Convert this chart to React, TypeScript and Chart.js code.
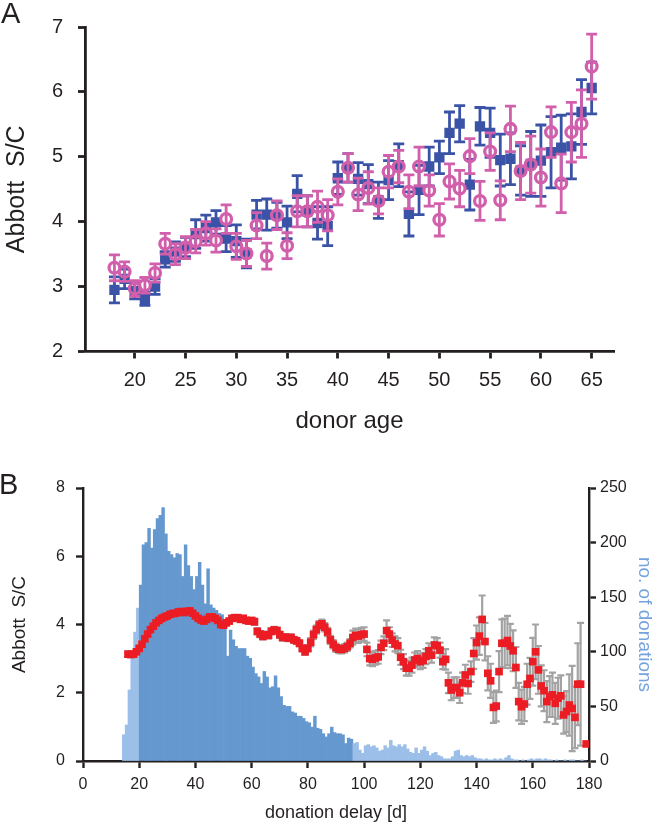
import React, { useEffect, useRef } from "react";
import { Chart, registerables } from "chart.js";
Chart.register(...registerables);

const FONT = "'Liberation Sans', Arial, Helvetica, sans-serif";
const AXIS = "#231f20";
const BLUE = "#3a53a6";
const MAGENTA = "#d25fab";
const RED = "#ec1c24";
const GRAY = "#a3a3a3";
const DARK_BAR = "#6598cf";
const LIGHT_BAR = "#9bbfe8";
const RIGHT_TITLE = "#74a3de";

// ---------- Panel A: donor age ----------
const ageTicks = [20, 25, 30, 35, 40, 45, 50, 55, 60, 65];
const ages = [18, 19, 20, 21, 22, 23, 24, 25, 26, 27, 28, 29, 30, 31, 32, 33, 34, 35, 36, 37, 38, 39, 40, 41, 42, 43, 44, 45, 46, 47, 48, 49, 50, 51, 52, 53, 54, 55, 56, 57, 58, 59, 60, 61, 62, 63, 64, 65];
const blueMean = [2.95, 3.12, 2.93, 2.81, 3.0, 3.42, 3.54, 3.61, 3.81, 3.9, 3.99, 3.74, 3.7, 3.51, 4.11, 4.11, 4.1, 3.99, 4.43, 4.16, 3.98, 3.93, 4.67, 4.83, 4.66, 4.58, 4.33, 4.64, 4.87, 4.12, 4.49, 4.85, 4.99, 5.37, 5.51, 4.57, 5.47, 5.37, 4.95, 4.97, 4.79, 4.89, 4.94, 5.07, 5.14, 5.16, 5.69, 6.06];
const blueErr = [0.2, 0.15, 0.12, 0.1, 0.12, 0.12, 0.15, 0.15, 0.22, 0.2, 0.18, 0.2, 0.25, 0.22, 0.22, 0.24, 0.2, 0.25, 0.28, 0.24, 0.25, 0.3, 0.25, 0.22, 0.25, 0.3, 0.28, 0.3, 0.33, 0.34, 0.38, 0.3, 0.25, 0.32, 0.28, 0.39, 0.29, 0.38, 0.4, 0.4, 0.38, 0.5, 0.55, 0.55, 0.5, 0.5, 0.5, 0.4];
const magentaMean = [3.29, 3.23, 2.97, 3.02, 3.21, 3.66, 3.5, 3.6, 3.7, 3.82, 3.71, 4.04, 3.62, 3.51, 3.94, 3.47, 4.1, 3.63, 4.16, 4.16, 4.23, 4.1, 4.46, 4.83, 4.42, 4.52, 4.32, 4.77, 4.85, 4.46, 4.85, 4.48, 4.03, 4.62, 4.51, 5.01, 4.32, 5.08, 4.33, 5.43, 4.78, 4.88, 4.68, 5.38, 4.59, 5.38, 5.51, 6.39];
const magentaErr = [0.2, 0.15, 0.12, 0.12, 0.14, 0.16, 0.16, 0.17, 0.18, 0.18, 0.18, 0.22, 0.2, 0.2, 0.2, 0.2, 0.22, 0.2, 0.24, 0.24, 0.24, 0.24, 0.2, 0.22, 0.25, 0.25, 0.2, 0.25, 0.25, 0.26, 0.3, 0.24, 0.25, 0.27, 0.28, 0.27, 0.3, 0.29, 0.3, 0.35, 0.44, 0.44, 0.44, 0.39, 0.45, 0.46, 0.52, 0.5];

// ---------- Panel B: donation delay ----------
const histFirstDay = 14;
const darkFrom = 20;
const darkTo = 95;
const histCounts = [
  24, 33, 65, 94, 118, 140,
  161, 198, 200, 213, 195, 212, 222, 225, 232, 208,
  192, 189, 186, 190, 189, 169, 198, 179, 169, 157,
  169, 182, 161, 144, 176, 143, 140, 138, 135, 134,
  125, 96, 120, 111, 105, 103, 103, 103, 96, 94,
  86, 80, 77, 71, 82, 77, 67, 68, 78, 67,
  59, 51, 50, 50, 45, 44, 41, 41, 39, 36,
  35, 31, 41, 30, 29, 25, 22, 25, 31, 26,
  25, 25, 24, 16, 21, 20,
  16, 17, 10, 7,
  14, 15, 13, 14, 12, 9, 10, 14, 12, 19,
  14, 13, 15, 13, 15, 11, 8, 7, 12, 7,
  10, 13, 9, 5, 7, 8, 5, 4, 2, 2,
  2, 4, 9, 10, 5, 4, 5, 4, 5, 3,
  2, 2, 1, 2, 1, 1, 2, 1, 2, 1,
  3, 5, 2, 1, 1, 0, 1, 0, 1, 2,
  1, 2, 2, 1, 2, 1, 1, 0, 1, 0,
  0, 1, 0, 1, 1, 0, 0, 1, 0,
];
const redFirstDay = 16;
const redMean: (number | null)[] = [
  3.13, 3.12, 3.13, 3.2, 3.3, 3.42, 3.58, 3.72, 3.85, 3.95,
  4.05, 4.12, 4.18, 4.22, 4.25, 4.3, 4.32, 4.33, 4.37, 4.38,
  4.35, 4.38, 4.4, 4.33, 4.25, 4.18, 4.13, 4.1, 4.15, 4.22,
  4.22, 4.18, 4.12, 4.0, 3.98, 4.05, 4.1, 4.18, 4.2, 4.2,
  4.15, 4.18, 4.12, 4.1, 4.12, 4.08, 3.8, 3.72, 3.65, 3.7,
  3.68, 3.8, 3.84, 3.82, 3.7, 3.62, 3.63, 3.6, 3.62, 3.55,
  3.52, 3.45, 3.3, 3.2, 3.3, 3.48, 3.7, 3.85, 3.98, 4.02,
  3.92, 3.78, 3.55, 3.42, 3.32, 3.28, 3.27, 3.3, 3.35, 3.45,
  3.62, 3.68, 3.66, 3.7, 3.72, 3.27, 3.0, 2.98, 3.02, 3.05,
  3.33, 3.45, 3.82, 3.72, 3.54, 3.43, 3.38, 3.04, 2.91, 2.72,
  2.72, 2.81, 2.96, 3.0, 2.91, 2.95, 3.06, 3.23, 3.1, 3.4,
  3.38, 3.25, 2.91, 2.98, 2.29, 2.08, 2.15, 2.15, 2.0, 2.29,
  2.52, 2.27, 2.62, 3.15, 3.47, 3.66, 4.15, 3.5, 2.57, 2.35,
  1.57, 1.61, 2.62, 3.45, 3.45, 3.53, 3.37, 3.23, 2.74, 1.74,
  1.59, 1.67, 2.25, 2.42, 2.91, 3.2, 2.67, 2.2, 2.06, 1.74,
  1.89, 1.94, 1.69, 1.84, 1.91, 1.35, 1.45, 1.64, 1.54, 1.28,
  2.25, 2.25, null, 0.5,
];
const redErr = [
  0.08, 0.08, 0.08, 0.08, 0.08, 0.08, 0.08, 0.08, 0.08, 0.08,
  0.08, 0.08, 0.08, 0.08, 0.08, 0.07, 0.07, 0.07, 0.07, 0.07,
  0.07, 0.07, 0.07, 0.07, 0.07, 0.07, 0.07, 0.07, 0.07, 0.07,
  0.07, 0.07, 0.07, 0.07, 0.07, 0.07, 0.07, 0.07, 0.07, 0.07,
  0.07, 0.07, 0.07, 0.07, 0.07, 0.09, 0.09, 0.09, 0.09, 0.09,
  0.09, 0.09, 0.09, 0.09, 0.09, 0.09, 0.09, 0.09, 0.09, 0.09,
  0.09, 0.09, 0.09, 0.09, 0.09, 0.12, 0.12, 0.12, 0.12, 0.12,
  0.12, 0.12, 0.12, 0.12, 0.12, 0.12, 0.12, 0.12, 0.12, 0.12,
  0.2, 0.2, 0.2, 0.2, 0.2, 0.2, 0.2, 0.2, 0.2, 0.2,
  0.2, 0.2, 0.3, 0.2, 0.2, 0.22, 0.22, 0.22, 0.22, 0.22,
  0.22, 0.22, 0.22, 0.22, 0.22, 0.22, 0.22, 0.22, 0.22, 0.22,
  0.22, 0.22, 0.22, 0.3, 0.3, 0.3, 0.3, 0.3, 0.3, 0.3,
  0.3, 0.3, 0.3, 0.45, 0.5, 0.55, 0.7, 0.55, 0.5, 0.5,
  0.45, 0.45, 0.6, 0.7, 0.72, 0.72, 0.65, 0.6, 0.6, 0.55,
  0.5, 0.5, 0.6, 0.6, 0.7, 0.8, 0.7, 0.6, 0.6, 0.6,
  0.6, 0.65, 0.6, 0.6, 0.6, 0.55, 0.6, 0.9, 1.25, 0.9,
  1.2, 1.8, 0, 0,
];

const errorBarPlugin = {
  id: "errorBars",
  beforeDatasetDraw(chart: any, args: any) {
    const ds = chart.data.datasets[args.index];
    const err: number[] | undefined = ds.errorBars;
    if (!err) return;
    const meta = args.meta;
    const yScale = chart.scales[meta.yAxisID];
    const ctx = chart.ctx;
    ctx.save();
    ctx.strokeStyle = ds.errorColor;
    ctx.lineWidth = ds.errorWidth;
    ctx.lineCap = "butt";
    meta.data.forEach((pt: any, i: number) => {
      const raw = ds.data[i];
      if (!raw || raw.y == null) return;
      const e = err[i];
      if (!e) return;
      const x = pt.x;
      const yTop = yScale.getPixelForValue(raw.y + e);
      const yBot = yScale.getPixelForValue(raw.y - e);
      const c = ds.capHalf;
      ctx.beginPath();
      ctx.moveTo(x, yTop);
      ctx.lineTo(x, yBot);
      ctx.moveTo(x - c, yTop);
      ctx.lineTo(x + c, yTop);
      ctx.moveTo(x - c, yBot);
      ctx.lineTo(x + c, yBot);
      ctx.stroke();
    });
    ctx.restore();
  },
};

const H_A = 440;
const H_B = 387;

function axisCommon(tickSize: number, pad: number, tickLen: number, borderW: number) {
  return {
    grid: {
      display: true,
      drawOnChartArea: false,
      drawTicks: true,
      tickLength: tickLen,
      tickWidth: borderW,
      tickColor: AXIS,
    },
    border: { display: true, color: AXIS, width: borderW },
    ticks: { color: AXIS, font: { family: FONT, size: tickSize }, padding: pad },
  };
}

export default function App() {
  const refA = useRef<HTMLCanvasElement>(null);
  const refB = useRef<HTMLCanvasElement>(null);

  useEffect(() => {
    const chartA = new Chart(refA.current as HTMLCanvasElement, {
      type: "scatter",
      data: {
        datasets: [
          {
            label: "magenta",
            data: ages.map((a, i) => ({ x: a, y: magentaMean[i] })),
            pointStyle: "circle",
            pointRadius: 5.4,
            pointBorderWidth: 3.3,
            borderColor: MAGENTA,
            backgroundColor: "rgba(0,0,0,0)",
            errorBars: magentaErr,
            errorColor: MAGENTA,
            errorWidth: 2.8,
            capHalf: 5.5,
          } as any,
          {
            label: "blue",
            data: ages.map((a, i) => ({ x: a, y: blueMean[i] })),
            pointStyle: "rect",
            pointRadius: 7.3,
            pointBorderWidth: 0,
            borderColor: BLUE,
            backgroundColor: BLUE,
            errorBars: blueErr,
            errorColor: BLUE,
            errorWidth: 2.8,
            capHalf: 5.5,
          } as any,
        ],
      },
      options: {
        responsive: false,
        animation: false,
        devicePixelRatio: 1,
        events: [],
        layout: { padding: { left: 0, top: 17.5, right: 40, bottom: 0 } },
        plugins: { legend: { display: false }, tooltip: { enabled: false } },
        scales: {
          x: {
            type: "linear",
            min: 15.1,
            max: 67.2,
            afterBuildTicks: (s: any) => {
              s.ticks = ageTicks.map((v) => ({ value: v }));
            },
            afterFit: (s: any) => {
              s.height = H_A - 351.5;
            },
            ...axisCommon(20, 9.5, 7, 2.8),
            title: {
              display: true,
              text: "donor age",
              color: AXIS,
              font: { family: FONT, size: 24, lineHeight: 1 },
              padding: { top: 0, bottom: 7 },
            },
          },
          y: {
            type: "linear",
            min: 2,
            max: 7,
            afterFit: (s: any) => {
              s.width = 85;
            },
            ...axisCommon(20, 15, 7, 2.8),
            ticks: { color: AXIS, font: { family: FONT, size: 20 }, padding: 15, stepSize: 1 },
            title: {
              display: true,
              text: "Abbott  S/C",
              color: AXIS,
              font: { family: FONT, size: 25, lineHeight: 1 },
              padding: { top: 5, bottom: 0 },
            },
          },
        },
      } as any,
      plugins: [errorBarPlugin],
    });

    const histColors = histCounts.map((_, i) => {
      const d = histFirstDay + i;
      return d >= darkFrom && d <= darkTo ? DARK_BAR : LIGHT_BAR;
    });

    const chartB = new Chart(refB.current as HTMLCanvasElement, {
      type: "bar",
      data: {
        datasets: [
          {
            type: "line",
            label: "mean S/C",
            data: redMean.map((v, i) => ({ x: redFirstDay + i, y: v })),
            showLine: false,
            pointStyle: "rect",
            pointRadius: 5.4,
            pointBorderWidth: 0,
            backgroundColor: RED,
            borderColor: RED,
            yAxisID: "y",
            order: 0,
            errorBars: redErr,
            errorColor: GRAY,
            errorWidth: 2.2,
            capHalf: 3.5,
          } as any,
          {
            type: "bar",
            label: "no. of donations",
            data: histCounts.map((v, i) => ({ x: histFirstDay + i + 0.5, y: v })),
            backgroundColor: histColors,
            borderWidth: 0,
            barPercentage: 1,
            categoryPercentage: 1,
            yAxisID: "y2",
            order: 1,
          } as any,
        ],
      },
      options: {
        responsive: false,
        animation: false,
        devicePixelRatio: 1,
        events: [],
        layout: { padding: { left: 0, top: 48, right: 0, bottom: 0 } },
        plugins: { legend: { display: false }, tooltip: { enabled: false } },
        scales: {
          x: {
            type: "linear",
            min: 0,
            max: 180,
            offset: false,
            afterFit: (s: any) => {
              s.height = H_B - 321;
            },
            ...axisCommon(16, 7.4, 7, 2.4),
            grid: {
              display: true,
              offset: false,
              drawOnChartArea: false,
              drawTicks: true,
              tickLength: 7,
              tickWidth: 2.4,
              tickColor: AXIS,
            },
            ticks: { color: AXIS, font: { family: FONT, size: 16 }, padding: 7.4, stepSize: 20 },
            title: {
              display: true,
              text: "donation delay [d]",
              color: AXIS,
              font: { family: FONT, size: 18, lineHeight: 1 },
              padding: { top: 0, bottom: 5 },
            },
          },
          y: {
            type: "linear",
            position: "left",
            min: 0,
            max: 8,
            afterFit: (s: any) => {
              s.width = 83;
            },
            ...axisCommon(16, 11, 7, 2.4),
            ticks: { color: AXIS, font: { family: FONT, size: 16 }, padding: 11, stepSize: 2 },
            title: {
              display: true,
              text: "Abbott  S/C",
              color: AXIS,
              font: { family: FONT, size: 19, lineHeight: 1 },
              padding: { top: 10, bottom: 0 },
            },
          },
          y2: {
            type: "linear",
            position: "right",
            min: 0,
            max: 250,
            afterFit: (s: any) => {
              s.width = 65;
            },
            ...axisCommon(16, 4, 7, 2.4),
            ticks: { color: AXIS, font: { family: FONT, size: 16 }, padding: 4, stepSize: 50 },
            title: {
              display: true,
              text: "no. of donations",
              color: RIGHT_TITLE,
              font: { family: FONT, size: 19, lineHeight: 1 },
              padding: { top: 0.5, bottom: 0 },
            },
          },
        },
      } as any,
      plugins: [errorBarPlugin],
    });

    return () => {
      chartA.destroy();
      chartB.destroy();
    };
  }, []);

  const letter: React.CSSProperties = {
    position: "absolute",
    fontFamily: FONT,
    fontSize: 29,
    lineHeight: "29px",
    color: AXIS,
  };

  return (
    <div style={{ position: "absolute", left: 0, top: 0, width: 654, height: 827, background: "#fff", overflow: "hidden" }}>
      <canvas ref={refA} width={654} height={H_A} style={{ position: "absolute", left: 0, top: 0, width: 654, height: H_A }} />
      <canvas ref={refB} width={654} height={H_B} style={{ position: "absolute", left: 0, top: H_A, width: 654, height: H_B }} />
      <div style={{ ...letter, left: 1, top: -1 }}>A</div>
      <div style={{ ...letter, left: -1, top: 470 }}>B</div>
    </div>
  );
}
